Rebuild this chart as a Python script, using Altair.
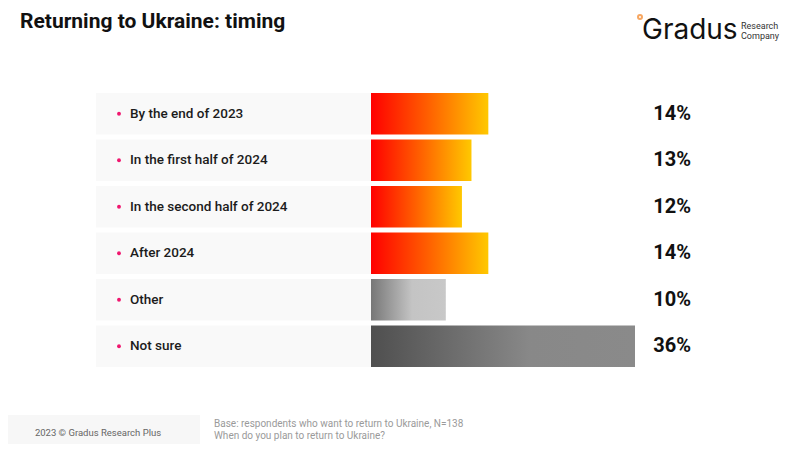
import altair as alt
import pandas as pd

categories = [
    "By the end of 2023",
    "In the first half of 2024",
    "In the second half of 2024",
    "After 2024",
    "Other",
    "Not sure",
]
bar_values = [16.0, 13.7, 12.4, 16.0, 10.2, 36.0]
pct_labels = ["14%", "13%", "12%", "14%", "10%", "36%"]
groups = ["warm", "warm", "warm", "warm", "other", "unsure"]

df = pd.DataFrame({"category": categories, "value": bar_values, "pct": pct_labels, "group": groups})
one = pd.DataFrame({"k": [0]})

FONT = "Roboto"

y_enc = alt.Y(
    "category:N",
    sort=categories,
    axis=None,
    scale=alt.Scale(range=[85, 359], paddingInner=0.11, paddingOuter=0),
)
x_scale = alt.Scale(domain=[0, 36], range=[363, 627])

base = alt.Chart(df)

row_bg = base.mark_bar(color="#f9f9f9").encode(y=y_enc, x=alt.value(88), x2=alt.value(363))
bullets = base.mark_circle(color="#f0176f", size=15, opacity=1).encode(y=y_enc, x=alt.value(111))
labels = base.mark_text(align="left", baseline="middle", font=FONT, fontSize=13.5, fontWeight=500, color="#1c1c1c").encode(
    y=y_enc, x=alt.value(122), text="category:N"
)


def gradient_bars(group, stops):
    grad = alt.Gradient(gradient="linear", x1=0, x2=1, y1=0, y2=0, stops=[alt.GradientStop(offset=o, color=c) for o, c in stops])
    return (
        base.transform_filter(alt.datum.group == group)
        .mark_bar(color=grad)
        .encode(y=y_enc, x=alt.X("value:Q", scale=x_scale, axis=None), x2=alt.value(363))
    )


warm = gradient_bars("warm", [(0, "#ff0000"), (0.5, "#ff6200"), (1, "#ffc800")])
other = gradient_bars("other", [(0, "#777777"), (0.55, "#c4c4c4"), (1, "#c8c8c8")])
unsure = gradient_bars("unsure", [(0, "#4f4f4f"), (0.6, "#888888"), (1, "#8a8a8a")])

pcts = base.mark_text(align="right", baseline="middle", font=FONT, fontSize=20, fontWeight="bold", color="#111111").encode(
    y=y_enc, x=alt.value(683), text="pct:N"
)

deco = alt.Chart(one)
title = deco.mark_text(align="left", baseline="middle", font=FONT, fontSize=21, fontWeight="bold", color="#111111").encode(
    x=alt.value(12), y=alt.value(14), text=alt.value("Returning to Ukraine: timing")
)
logo_ring = deco.mark_point(shape="circle", filled=False, stroke="#f5821f", strokeWidth=2, size=16).encode(
    x=alt.value(632), y=alt.value(9)
)
logo_word = deco.mark_text(align="left", baseline="middle", font="Inter", fontSize=28, color="#111111").encode(
    x=alt.value(634), y=alt.value(23), text=alt.value("Gradus")
)
logo_sub = deco.mark_text(align="left", baseline="middle", font=FONT, fontSize=9, lineHeight=10, color="#333333").encode(
    x=alt.value(733), y=alt.value(18), text=alt.value(["Research", "Company"])
)
footer_box = deco.mark_rect(color="#f7f7f7").encode(x=alt.value(0), x2=alt.value(192), y=alt.value(407), y2=alt.value(436))
footer_copy = deco.mark_text(align="center", baseline="middle", font=FONT, fontSize=9.5, color="#666666").encode(
    x=alt.value(90), y=alt.value(425), text=alt.value("2023 © Gradus Research Plus")
)
footer_note = deco.mark_text(align="left", baseline="middle", font=FONT, fontSize=10, lineHeight=12, color="#9a9a9a").encode(
    x=alt.value(206), y=alt.value(416),
    text=alt.value(["Base: respondents who want to return to Ukraine, N=138", "When do you plan to return to Ukraine?"]),
)

chart = (
    alt.layer(
        row_bg, bullets, labels, warm, other, unsure, pcts,
        title, logo_ring, logo_word, logo_sub, footer_box, footer_copy, footer_note,
    )
    .properties(width=784, height=436, padding=0, autosize=alt.AutoSizeParams(type="none"), background="white")
    .configure_view(strokeWidth=0)
)

chart.save("out.html", embed_options={"renderer": "svg", "actions": False})
